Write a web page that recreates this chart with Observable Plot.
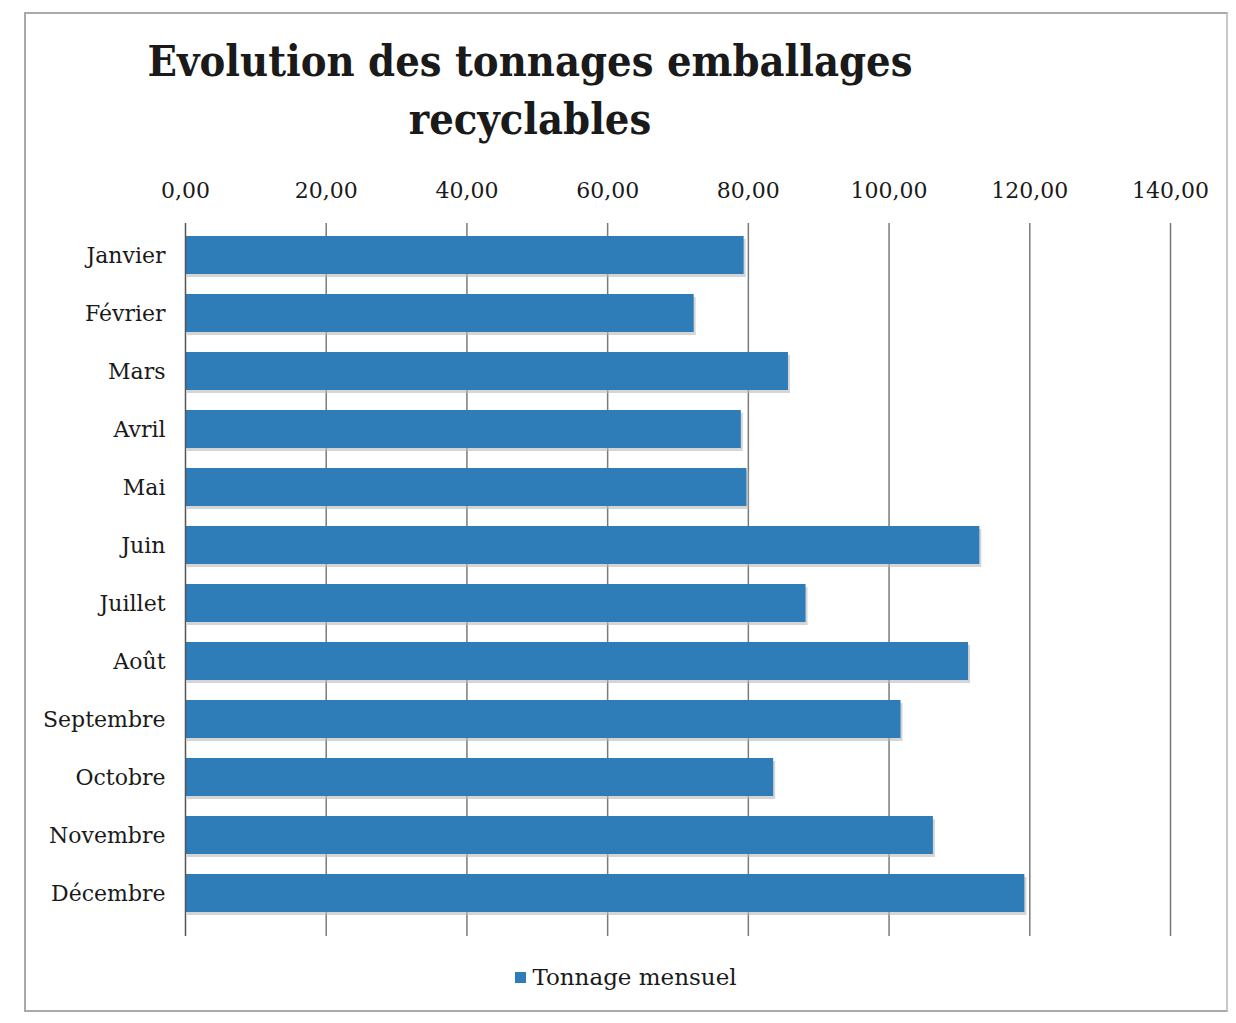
<!DOCTYPE html>
<html>
<head>
<meta charset="utf-8">
<script src="https://cdn.jsdelivr.net/npm/d3@7"></script>
<script src="https://cdn.jsdelivr.net/npm/@observablehq/plot@0.6"></script>
<style>
  html, body { margin: 0; padding: 0; background: #fff; }
  body { width: 1236px; height: 1023px; position: relative; overflow: hidden; font-family: "DejaVu Serif", serif; }
  #frame { position: absolute; left: 24px; top: 12px; width: 1200px; height: 996px; border: 2px solid #a9a9a9; border-right-color: #c8c8c8; }
  #title { position: absolute; left: 0; top: 32px; width: 1060px; text-align: center; font-family: "DejaVu Serif Condensed", "DejaVu Serif", serif; font-weight: bold; font-size: 43px; line-height: 58px; color: #1a1a1a; }
  #chart { position: absolute; left: 0; top: 150px; }
  #legend { position: absolute; left: 0; top: 964px; width: 1236px; text-align: center; font-size: 23px; color: #1a1a1a; padding-left: 8px; }
  #legend .sw { display: inline-block; width: 11px; height: 11px; background: #2e7db9; margin-right: 6px; vertical-align: 2px; }
</style>
</head>
<body>
<div id="frame"></div>
<div id="title">Evolution des tonnages emballages<br>recyclables</div>
<div id="chart"></div>
<div id="legend"><span class="sw"></span>Tonnage mensuel</div>
<script>
const months = ["Janvier", "Février", "Mars", "Avril", "Mai", "Juin", "Juillet", "Août", "Septembre", "Octobre", "Novembre", "Décembre"];
const tonnage = [79.4, 72.3, 85.7, 79.0, 79.8, 112.9, 88.2, 111.3, 101.7, 83.6, 106.3, 119.3];
const xTicks = [0, 20, 40, 60, 80, 100, 120, 140];
const seriesName = "Tonnage mensuel";

const data = months.map((m, i) => ({ month: m, value: tonnage[i] }));
const fmt = v => v.toFixed(2).replace(".", ",");

const chart = Plot.plot({
  width: 1236,
  height: 800,
  marginLeft: 185,
  marginRight: 66,
  marginTop: 71,
  marginBottom: 24,
  style: { fontFamily: "DejaVu Serif, serif", fontSize: "22px", color: "#1a1a1a", background: "transparent" },
  x: { domain: [0, 140], ticks: xTicks, tickFormat: fmt },
  y: { domain: months, paddingInner: 0.35, paddingOuter: 0.175, label: null },
  marks: [
    Plot.ruleX(xTicks.slice(1), { stroke: "#7a7a7a", strokeWidth: 1.5, insetTop: 2, insetBottom: -10 }),
    Plot.barX(data, { y: "month", x: "value", fill: "#b9b9b9", fillOpacity: 0.6, dx: 2, dy: 3 }),
    Plot.barX(data, { y: "month", x: "value", fill: "#2e7db9" }),
    Plot.ruleX([0], { stroke: "#555", strokeWidth: 1.5, insetTop: 2, insetBottom: -10 }),
    Plot.axisX({ anchor: "top", ticks: xTicks, tickFormat: fmt, tickSize: 0, tickPadding: 24, label: null, fontSize: 22 }),
    Plot.axisY({ tickSize: 0, tickPadding: 20, label: null, fontSize: 22 })
  ]
});
document.getElementById("chart").appendChild(chart);
</script>
</body>
</html>
